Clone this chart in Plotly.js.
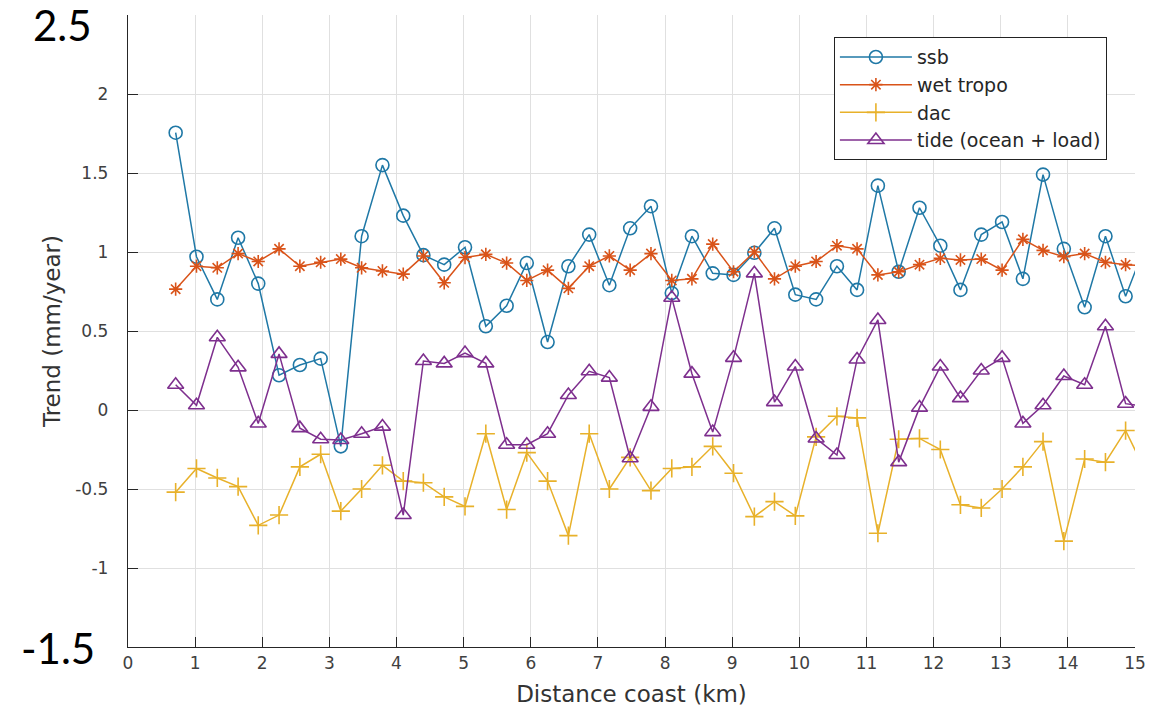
<!DOCTYPE html>
<html>
<head>
<meta charset="utf-8">
<script src="https://cdn.plot.ly/plotly-3.0.1.min.js"></script>
<style>
  html, body { margin: 0; padding: 0; background: #fff; }
  #chart { width: 1173px; height: 714px; }
</style>
</head>
<body>
<div id="chart"></div>
<script>
// Abstand zur Kueste (km), Punkte entlang der Spur
const distKm = [0.71, 1.02, 1.33, 1.64, 1.94, 2.25, 2.56, 2.87, 3.17, 3.48,
  3.79, 4.10, 4.40, 4.71, 5.02, 5.33, 5.64, 5.94, 6.25, 6.56,
  6.87, 7.17, 7.48, 7.79, 8.10, 8.40, 8.71, 9.02, 9.33, 9.63,
  9.94, 10.25, 10.56, 10.86, 11.17, 11.48, 11.79, 12.10, 12.40, 12.71,
  13.02, 13.33, 13.63, 13.94, 14.25, 14.56, 14.86, 15.17];

const ssb = [1.755, 0.97, 0.70, 1.09, 0.80, 0.22, 0.285, 0.325, -0.23, 1.10,
  1.55, 1.23, 0.98, 0.92, 1.03, 0.53, 0.66, 0.93, 0.43, 0.91,
  1.11, 0.79, 1.15, 1.29, 0.74, 1.10, 0.865, 0.855, 0.995, 1.15,
  0.73, 0.70, 0.91, 0.76, 1.42, 0.875, 1.28, 1.04, 0.76, 1.11,
  1.19, 0.83, 1.49, 1.02, 0.65, 1.10, 0.72, 1.06];

const wetTropo = [0.765, 0.91, 0.90, 0.99, 0.94, 1.02, 0.91, 0.935, 0.955, 0.90,
  0.88, 0.86, 0.975, 0.805, 0.965, 0.985, 0.93, 0.82, 0.885, 0.77,
  0.91, 0.975, 0.885, 0.99, 0.82, 0.83, 1.05, 0.875, 1.00, 0.83,
  0.91, 0.94, 1.04, 1.02, 0.855, 0.875, 0.92, 0.96, 0.95, 0.955,
  0.885, 1.08, 1.01, 0.97, 0.99, 0.935, 0.92, 0.91];

const dac = [-0.52, -0.37, -0.43, -0.485, -0.73, -0.665, -0.36, -0.28, -0.64, -0.50,
  -0.35, -0.45, -0.46, -0.55, -0.61, -0.15, -0.63, -0.27, -0.45, -0.795,
  -0.15, -0.50, -0.30, -0.51, -0.37, -0.36, -0.23, -0.40, -0.675, -0.58,
  -0.67, -0.17, -0.04, -0.05, -0.78, -0.185, -0.18, -0.25, -0.60, -0.62,
  -0.50, -0.36, -0.20, -0.83, -0.31, -0.33, -0.13, -0.40];

const tide = [0.16, 0.03, 0.46, 0.27, -0.085, 0.355, -0.115, -0.185, -0.19, -0.15,
  -0.105, -0.665, 0.31, 0.295, 0.36, 0.295, -0.22, -0.22, -0.15, 0.095,
  0.245, 0.205, -0.305, 0.02, 0.71, 0.23, -0.14, 0.33, 0.865, 0.05,
  0.275, -0.18, -0.285, 0.32, 0.57, -0.33, 0.015, 0.275, 0.075, 0.25,
  0.33, -0.085, 0.03, 0.215, 0.16, 0.53, 0.04, 0.02];

const seriesNames = ["ssb", "wet tropo", "dac", "tide (ocean + load)"];
const yTickVals = [-1, -0.5, 0, 0.5, 1, 1.5, 2];
const yTickText = ["-1", "-0.5", "0", "0.5", "1", "1.5", "2"];

// Farben und Marker wie in Matlab
const farben = ["#1f78a6", "#d95319", "#e8b12a", "#7e2f8e"];
const symbole = ["circle-open", "asterisk-open", "cross-thin-open", "triangle-up-open"];
const groessen = [13, 11, 13, 14];
const werte = [ssb, wetTropo, dac, tide];

const traces = werte.map((y, i) => ({
  x: distKm,
  y: y,
  name: seriesNames[i],
  legendgroup: "g" + i,
  type: "scatter",
  mode: "lines+markers",
  line: { color: farben[i], width: 1.5 },
  marker: {
    symbol: symbole[i],
    size: groessen[i],
    color: farben[i],
    line: { color: farben[i], width: 1.6 },
  },
  cliponaxis: true,
}));

const achsenFont = { family: "DejaVu Sans", size: 17, color: "#404040" };
const titelFont = { family: "DejaVu Sans", size: 23, color: "#333" };

const layout = {
  width: 1173,
  height: 714,
  margin: { l: 128, r: 38, t: 15, b: 67 },
  paper_bgcolor: "#fff",
  plot_bgcolor: "#fff",
  showlegend: true,
  xaxis: {
    range: [0, 15],
    tick0: 0,
    dtick: 1,
    showgrid: true,
    gridcolor: "#e0e0e0",
    zeroline: false,
    showline: true,
    linecolor: "#262626",
    linewidth: 1.2,
    ticks: "inside",
    ticklen: 10,
    tickcolor: "#262626",
    tickfont: achsenFont,
    title: { text: "Distance coast (km)", font: titelFont, standoff: 14 },
    automargin: false,
  },
  yaxis: {
    range: [-1.5, 2.5],
    tickvals: yTickVals,
    ticktext: yTickText,
    showgrid: true,
    gridcolor: "#e0e0e0",
    zeroline: false,
    showline: true,
    linecolor: "#262626",
    linewidth: 1.2,
    ticks: "inside",
    ticklen: 10,
    tickcolor: "#262626",
    tickfont: achsenFont,
    ticklabelstandoff: 15,
    title: { text: "Trend (mm/year)", font: titelFont, standoff: 8 },
    automargin: false,
  },
  legend: {
    x: 0.701,
    y: 0.965,
    xanchor: "left",
    yanchor: "top",
    bgcolor: "#fff",
    bordercolor: "#222",
    borderwidth: 1,
    tracegroupgap: 0,
    itemwidth: 72,
    font: { family: "DejaVu Sans", size: 19, color: "#262626" },
  },
  annotations: [
    {
      text: "2.5",
      xref: "paper",
      yref: "y",
      x: -0.034,
      y: 2.5,
      xanchor: "right",
      yanchor: "middle",
      yshift: -10,
      showarrow: false,
      font: { family: "Lato", size: 42, color: "#000" },
    },
    {
      text: "-1.5",
      xref: "paper",
      yref: "y",
      x: -0.031,
      y: -1.5,
      xanchor: "right",
      yanchor: "middle",
      yshift: -1,
      showarrow: false,
      font: { family: "Lato", size: 42, color: "#000" },
    },
  ],
};

Plotly.newPlot("chart", traces, layout, { staticPlot: true, displayModeBar: false });
</script>
</body>
</html>
